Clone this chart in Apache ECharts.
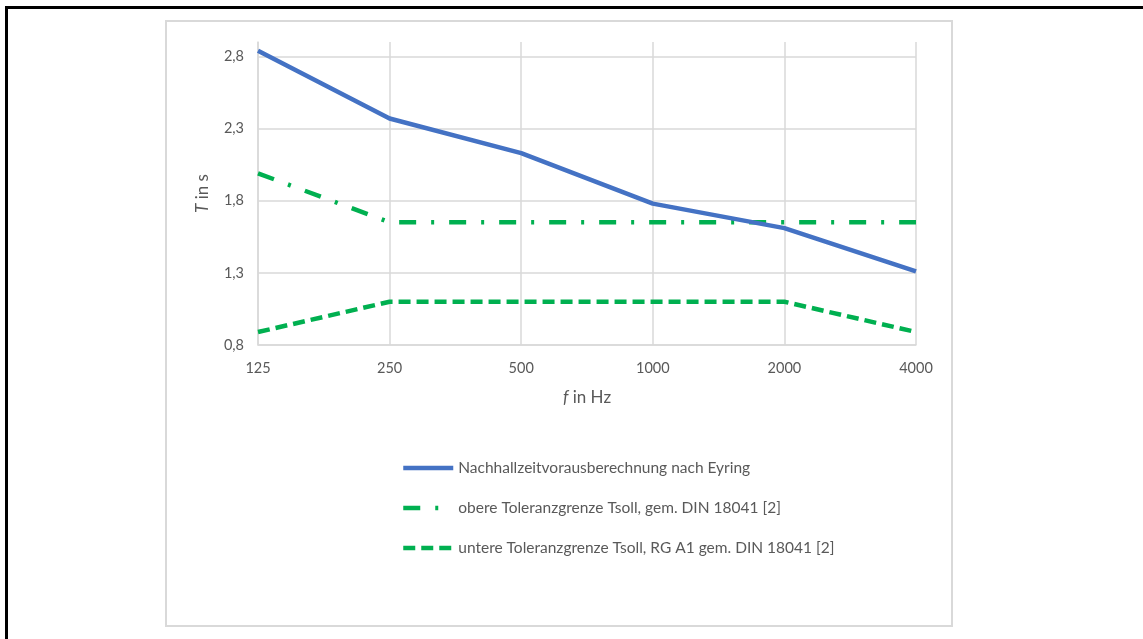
<!DOCTYPE html>
<html>
<head>
<meta charset="utf-8">
<script src="https://cdn.jsdelivr.net/npm/echarts@6/dist/echarts.min.js"></script>
<style>
  html, body { margin: 0; padding: 0; background: #fff; }
  body { width: 1143px; height: 639px; position: relative; overflow: hidden; }
  #frame { position: absolute; left: 5px; top: 6px; right: -10px; bottom: -10px;
           border-left: 3px solid #000; border-top: 3px solid #000; }
  #box { position: absolute; left: 165px; top: 20px; width: 784px; height: 603px;
         border: 2px solid #d9d9d9; }
  #chart { position: absolute; left: 0; top: 0; width: 1143px; height: 639px; }
</style>
</head>
<body>
<div id="frame"></div>
<div id="box"></div>
<div id="chart"></div>
<script>
// Octave band centre frequencies (Hz)
const frequencies = ['125', '250', '500', '1000', '2000', '4000'];
// Reverberation time T in s
const eyring = [2.84, 2.37, 2.13, 1.78, 1.61, 1.31];
const upperLimit = [1.99, 1.65, 1.65, 1.65, 1.65, 1.65];
const lowerLimit = [0.89, 1.10, 1.10, 1.10, 1.10, 0.89];
// Value axis ticks
const yTicks = [0.8, 1.3, 1.8, 2.3, 2.8];

const seriesNames = [
  'Nachhallzeitvorausberechnung nach Eyring',
  'obere Toleranzgrenze Tsoll, gem. DIN 18041 [2]',
  'untere Toleranzgrenze Tsoll, RG A1 gem. DIN 18041 [2]'
];

const FONT = 'Lato';
const TEXT = '#595959';
const GRID = '#d9d9d9';
const BLUE = '#4472C4';
const GREEN = '#00B050';

const nameRich = {
  i: { fontStyle: 'italic', fontFamily: FONT, fontSize: 17, color: TEXT },
  n: { fontFamily: FONT, fontSize: 17, color: TEXT }
};

const chart = echarts.init(document.getElementById('chart'), null, { renderer: 'canvas' });

chart.setOption({
  animation: false,
  textStyle: { fontFamily: FONT, color: TEXT },
  grid: { left: 258, right: 227, top: 42, bottom: 294, containLabel: false },
  legend: {
    orient: 'vertical',
    left: 396,
    top: 453,
    padding: 5,
    itemWidth: 50,
    itemHeight: 20,
    itemGap: 20,
    itemStyle: { opacity: 0 },
    lineStyle: { width: 4.5 },
    textStyle: { fontFamily: FONT, fontSize: 15.5, color: TEXT, lineHeight: 20 },
    data: seriesNames
  },
  xAxis: {
    type: 'category',
    data: frequencies,
    boundaryGap: false,
    axisLine: { lineStyle: { color: GRID, width: 1.5 } },
    axisTick: { show: false },
    axisLabel: { color: TEXT, fontFamily: FONT, fontSize: 14.5, margin: 16 },
    splitLine: { show: true, lineStyle: { color: GRID, width: 1.5 } },
    name: '{i|f}{n| in Hz}',
    nameLocation: 'middle',
    nameGap: 44,
    nameTextStyle: { color: TEXT, fontFamily: FONT, fontSize: 17, rich: nameRich }
  },
  yAxis: {
    type: 'value',
    min: 0.8,
    max: 2.9,
    axisLine: { show: true, lineStyle: { color: GRID, width: 1.5 } },
    axisTick: { show: false, customValues: yTicks },
    axisLabel: {
      color: TEXT, fontFamily: FONT, fontSize: 14.5, margin: 14,
      customValues: yTicks,
      formatter: v => v.toFixed(1).replace('.', ',')
    },
    splitLine: { show: true, lineStyle: { color: GRID, width: 1.5 } },
    name: '{i|T}{n| in s}',
    nameLocation: 'middle',
    nameGap: 47,
    nameTextStyle: { color: TEXT, fontFamily: FONT, fontSize: 17, rich: nameRich }
  },
  series: [
    {
      name: seriesNames[0],
      type: 'line',
      data: eyring,
      symbol: 'none',
      lineStyle: { color: BLUE, width: 4.5, join: 'round', cap: 'butt' },
      itemStyle: { color: BLUE },
      z: 4
    },
    {
      name: seriesNames[1],
      type: 'line',
      data: upperLimit,
      symbol: 'none',
      lineStyle: { color: GREEN, width: 4.5, type: [17, 15, 3, 15], join: 'round', cap: 'butt' },
      itemStyle: { color: GREEN },
      z: 3
    },
    {
      name: seriesNames[2],
      type: 'line',
      data: lowerLimit,
      symbol: 'none',
      lineStyle: { color: GREEN, width: 4.5, type: [12, 6], join: 'round', cap: 'butt' },
      itemStyle: { color: GREEN },
      z: 3
    }
  ]
});
</script>
</body>
</html>
